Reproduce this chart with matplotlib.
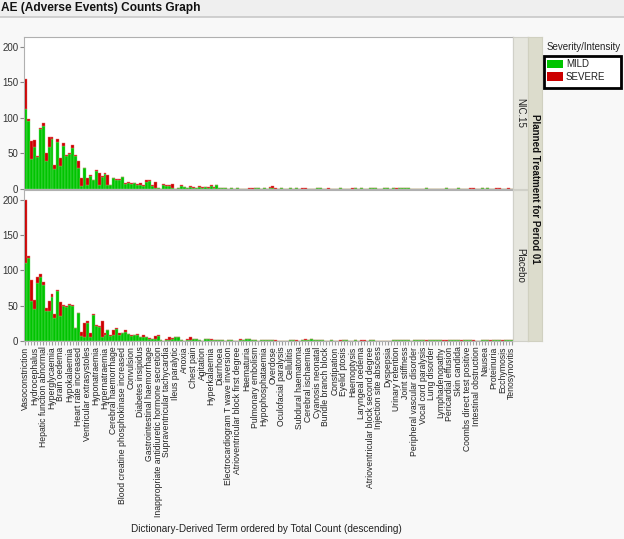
import numpy as np
import matplotlib
matplotlib.use("Agg")
import matplotlib.pyplot as plt
from matplotlib.patches import Rectangle

plt.rcParams['font.family'] = ['Liberation Sans', 'DejaVu Sans']

# tick labels shown on the x axis (every 3rd term is labelled)
tick_labels = [
    "Vasoconstriction", "Hydrocephalus", "Hepatic function abnormal", "Hyperglycaemia",
    "Brain oedema", "Hypokalaemia", "Heart rate increased", "Ventricular extrasystoles",
    "Hyponatraemia", "Hypernatraemia", "Cerebral haemorrhage",
    "Blood creatine phosphokinase increased", "Convulsion", "Diabetes insipidus",
    "Gastrointestinal haemorrhage", "Inappropriate antidiuretic hormone secretion",
    "Supraventricular tachycardia", "Ileus paralytic", "Anoxia", "Chest pain", "Agitation",
    "Hyperkalaemia", "Diarrhoea", "Electrocardiogram T wave inversion",
    "Atrioventricular block first degree", "Haematuria", "Pulmonary embolism",
    "Hypophosphataemia", "Overdose", "Oculofacial paralysis", "Cellulitis",
    "Subdural haematoma", "Cerebral ischaemia", "Cyanosis neonatal", "Bundle branch block",
    "Constipation", "Eyelid ptosis", "Haemoptysis", "Laryngeal oedema",
    "Atrioventricular block second degree", "Injection site abscess", "Dyspepsia",
    "Urinary retention", "Joint stiffness", "Peripheral vascular disorder",
    "Vocal cord paralysis", "Lung disorder", "Lymphadenopathy", "Pericardial effusion",
    "Skin candida", "Coombs direct test positive", "Intestinal obstruction", "Nausea",
    "Proteinuria", "Ecchymosis", "Tenosynovitis",
]

# NIC.15 counts per term (166 terms, ordered by total count)
nic_mild = [
    113, 96, 42, 59, 45, 84, 88, 39, 59, 70, 28, 66, 33, 60, 47, 49, 58, 47, 30, 4,
    29, 5, 19, 12, 25, 6, 17, 21, 5, 5, 15, 13, 13, 17, 7, 8, 7, 8, 6, 5,
    4, 10, 11, 4, 1, 1, 0, 6, 4, 4, 1, 0, 1, 4, 3, 1, 3, 1, 1, 3,
    2, 3, 2, 4, 2, 5, 2, 2, 1, 0, 2, 0, 1, 0, 0, 0, 0, 0, 2, 1,
    0, 2, 0, 1, 1, 0, 0, 2, 0, 0, 1, 0, 1, 0, 0, 0, 0, 0, 0, 1,
    2, 0, 0, 0, 0, 0, 0, 1, 0, 0, 0, 0, 1, 0, 1, 0, 0, 1, 2, 1,
    0, 0, 1, 1, 0, 1, 0, 1, 1, 1, 1, 0, 0, 0, 0, 0, 1, 0, 0, 0,
    0, 0, 0, 1, 0, 0, 0, 1, 0, 0, 0, 0, 0, 0, 0, 1, 0, 1, 0, 0,
    0, 0, 0, 0, 0, 0,
]
nic_severe = [
    42, 2, 26, 10, 1, 2, 5, 11, 14, 3, 6, 4, 11, 5, 1, 1, 4, 1, 9, 12,
    0, 10, 1, 1, 2, 16, 1, 1, 15, 1, 0, 1, 1, 0, 1, 2, 1, 1, 1, 3,
    1, 2, 1, 1, 9, 1, 0, 1, 1, 2, 6, 0, 1, 1, 0, 1, 1, 2, 1, 1,
    1, 0, 1, 1, 1, 1, 0, 0, 0, 0, 0, 0, 0, 0, 0, 0, 2, 1, 0, 0,
    0, 0, 0, 2, 3, 1, 0, 0, 0, 0, 0, 0, 0, 0, 1, 1, 0, 0, 0, 0,
    0, 0, 0, 1, 0, 0, 0, 0, 0, 0, 0, 1, 0, 0, 0, 0, 0, 0, 0, 0,
    0, 0, 0, 0, 0, 1, 1, 1, 0, 0, 0, 0, 0, 0, 0, 0, 0, 0, 0, 0,
    0, 0, 0, 0, 0, 0, 0, 0, 0, 0, 0, 1, 1, 0, 0, 0, 0, 0, 0, 0,
    1, 1, 0, 0, 1, 0,
]

# Placebo counts per term
pla_mild = [
    111, 118, 57, 46, 82, 90, 79, 42, 43, 63, 33, 71, 35, 49, 48, 51, 50, 19, 39, 7,
    6, 26, 6, 37, 21, 20, 6, 9, 16, 7, 8, 17, 9, 11, 13, 10, 7, 9, 9, 6,
    6, 6, 3, 3, 3, 7, 1, 0, 2, 2, 3, 5, 6, 2, 0, 2, 2, 3, 3, 2,
    0, 3, 3, 2, 2, 1, 2, 1, 0, 2, 2, 0, 0, 2, 1, 3, 3, 1, 1, 0,
    1, 2, 1, 1, 1, 0, 0, 0, 0, 0, 1, 1, 0, 0, 2, 2, 2, 3, 2, 1,
    2, 2, 0, 0, 1, 0, 0, 0, 1, 1, 0, 0, 1, 0, 0, 0, 0, 2, 1, 0,
    0, 0, 0, 0, 0, 1, 1, 1, 1, 1, 1, 0, 1, 1, 1, 1, 0, 1, 1, 1,
    1, 1, 0, 0, 1, 1, 1, 1, 0, 1, 1, 1, 0, 0, 0, 1, 1, 1, 0, 1,
    1, 1, 0, 1, 1, 1,
]
pla_severe = [
    89, 2, 30, 12, 8, 5, 5, 5, 14, 3, 5, 1, 20, 2, 1, 1, 1, 0, 1, 6,
    20, 2, 6, 1, 2, 1, 22, 2, 0, 2, 8, 1, 2, 1, 3, 0, 1, 0, 1, 0,
    2, 0, 1, 0, 4, 1, 0, 0, 1, 3, 1, 1, 0, 0, 0, 1, 3, 0, 0, 0,
    0, 0, 0, 1, 0, 1, 0, 0, 0, 0, 0, 0, 0, 1, 1, 0, 0, 0, 0, 0,
    0, 0, 0, 0, 0, 2, 0, 0, 0, 0, 0, 0, 1, 0, 0, 1, 0, 0, 0, 0,
    0, 0, 0, 0, 0, 0, 0, 1, 0, 0, 0, 0, 0, 0, 1, 1, 0, 0, 0, 0,
    0, 0, 0, 0, 0, 0, 0, 0, 0, 0, 0, 0, 0, 0, 0, 0, 1, 0, 0, 0,
    0, 0, 1, 1, 0, 0, 0, 0, 1, 0, 0, 0, 1, 0, 0, 0, 0, 0, 1, 0,
    0, 0, 1, 0, 0, 0,
]

panels = [("NIC.15", nic_mild, nic_severe), ("Placebo", pla_mild, pla_severe)]
GREEN = "#00c400"
RED = "#cc0000"
W, H = 624, 539

fig = plt.figure(figsize=(W / 100, H / 100), dpi=100, facecolor="#f8f8f8")

def px(l, t, r, b):
    return [l / W, 1 - b / H, (r - l) / W, (b - t) / H]

# header band
fig.patches.append(Rectangle((0, 1 - 17 / H), 1, 17 / H, transform=fig.transFigure,
                             facecolor="#efefef", edgecolor="none"))
fig.add_artist(plt.Line2D([0, 1], [1 - 17 / H] * 2, color="#c8c8c8", lw=1.2))
fig.text(1 / W, 1 - 8 / H, "AE (Adverse Events) Counts Graph", fontsize=8.6,
         fontweight="bold", va="center", ha="left", color="#111111")

n = len(nic_mild)
x = np.arange(n)
boxes = [(37, 189), (190, 341)]
for k, (name, mild, sev) in enumerate(panels):
    top, bot = boxes[k]
    ax = fig.add_axes(px(24, top, 513, bot))
    ax.set_facecolor("white")
    ax.bar(x, mild, width=1.0, color=GREEN, edgecolor="#6ee06e", linewidth=0.3)
    ax.bar(x, sev, width=1.0, bottom=mild, color=RED, edgecolor="#e86a6a", linewidth=0.3)
    ax.set_xlim(-0.5, n - 0.5)
    ax.set_ylim(0, 214)
    ax.set_yticks([0, 50, 100, 150, 200])
    ax.tick_params(axis="y", labelsize=7, length=3, color="#888888", labelcolor="#333333", pad=1)
    for s in ax.spines.values():
        s.set_color("#b0b0b0")
        s.set_linewidth(0.8)
    if k == 0:
        ax.set_xticks([])
    else:
        ax.set_xticks(x[::3])
        ax.set_xticklabels(tick_labels, rotation=90, fontsize=6.2, color="#222222")
        ax.set_xticks(x, minor=True)
        ax.tick_params(axis="x", which="both", length=3, color="#999999", pad=1)
    # inner facet strip
    sax = fig.add_axes(px(513, top, 528, bot))
    sax.set_facecolor("#e6e6de")
    sax.set_xticks([]); sax.set_yticks([])
    for s in sax.spines.values():
        s.set_color("#d0d0c8")
    sax.text(0.5, 0.5, name, rotation=-90, ha="center", va="center", fontsize=7,
             color="#222222", transform=sax.transAxes)

# outer facet strip
oax = fig.add_axes(px(528, 37, 542, 341))
oax.set_facecolor("#dcdccc")
oax.set_xticks([]); oax.set_yticks([])
for s in oax.spines.values():
    s.set_color("#d0d0c0")
oax.text(0.5, 0.5, "Planned Treatment for Period 01", rotation=-90, ha="center",
         va="center", fontsize=7, fontweight="bold", color="#111111", transform=oax.transAxes)

# legend
fig.text(547 / W, 1 - 47 / H, "Severity/Intensity", fontsize=7, va="center", color="#222222")
fig.patches.append(Rectangle((544 / W, 1 - 88 / H), 77 / W, 32 / H, transform=fig.transFigure,
                             facecolor="white", edgecolor="black", lw=2))
for j, (lab, col) in enumerate([("MILD", GREEN), ("SEVERE", RED)]):
    yc = 64 + j * 12.5
    fig.patches.append(Rectangle((547 / W, 1 - (yc + 4) / H), 16 / W, 8 / H,
                                 transform=fig.transFigure, facecolor=col, edgecolor="none"))
    fig.text(566 / W, 1 - yc / H, lab, fontsize=7, va="center", color="#222222")

fig.text(266 / W, 1 - 529 / H, "Dictionary-Derived Term ordered by Total Count (descending)",
         fontsize=7.2, ha="center", va="center", color="#222222")

fig.savefig("out.png", dpi=100, facecolor=fig.get_facecolor())
